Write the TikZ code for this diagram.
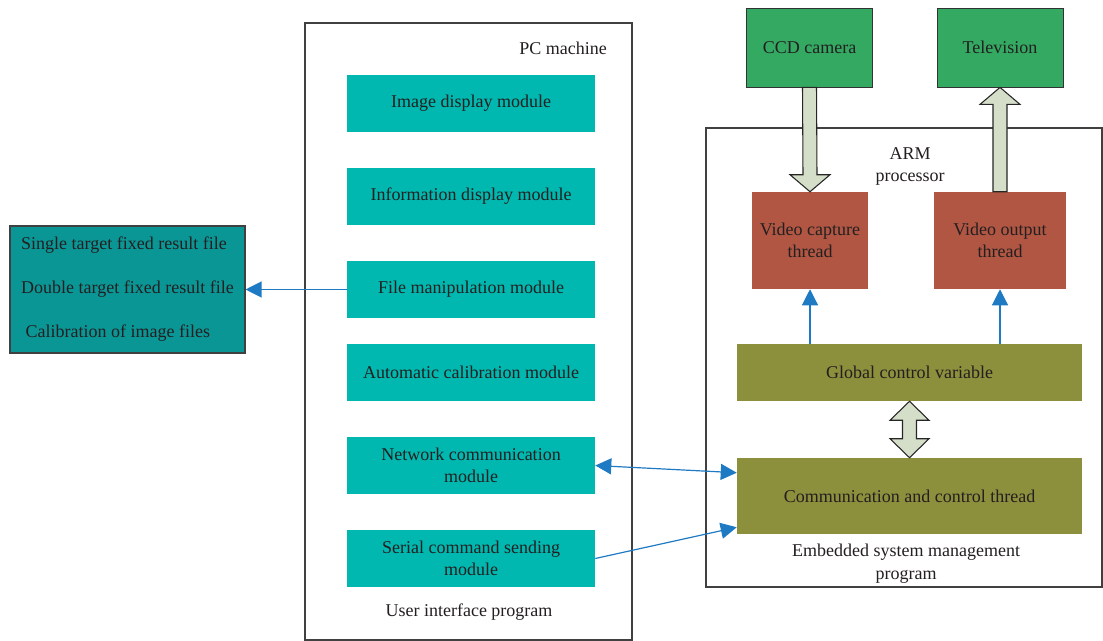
\documentclass[tikz,border=0pt]{standalone}
\usepackage{fontspec}
\setmainfont{Liberation Serif}
\usetikzlibrary{calc,arrows.meta}
\definecolor{txt}{HTML}{231F20}
\definecolor{modc}{HTML}{00B8AF}
\definecolor{filec}{HTML}{0B9696}
\definecolor{grn}{HTML}{33A962}
\definecolor{redc}{HTML}{B05643}
\definecolor{olv}{HTML}{8C8F3C}
\definecolor{blk}{HTML}{D5DEC9}
\definecolor{blu}{HTML}{1F7AC4}
\tikzset{
  every node/.style={text=txt, font=\fontsize{13.5}{17}\selectfont},
  frame/.style={draw=black!75, line width=0.8pt, rectangle, inner sep=0pt},
  mod/.style={rectangle, fill=modc, minimum width=186pt, minimum height=42.75pt, align=center, inner sep=0pt},
  cam/.style={rectangle, fill=grn, draw=black!80, line width=0.6pt, minimum width=95pt, minimum height=59.25pt, inner sep=0pt},
  thr/.style={rectangle, fill=redc, minimum height=72.75pt, align=center, inner sep=0pt},
  olvbox/.style={rectangle, fill=olv, minimum width=258.75pt, inner sep=0pt},
  blkarrow/.style={fill=blk, draw=black!85, line width=0.8pt, line join=miter},
  bluearrow/.style={draw=blu, line width=0.9pt, -{Triangle[width=12pt,length=12pt]}},
  bluedouble/.style={draw=blu, line width=0.9pt, {Triangle[width=12pt,length=12pt]}-{Triangle[width=12pt,length=12pt]}},
  lbl/.style={align=center, inner sep=0pt}
}
\begin{document}
\begin{tikzpicture}[x=0.75pt,y=-0.75pt]
\useasboundingbox (0,0) rectangle (1103,641);
% PC machine frame
\node[frame, minimum width=245.25pt, minimum height=462.75pt] (pc) at (468.5,331.5) {};
\node[lbl] (pclbl) at (563,48) {PC machine};
\node[lbl] (uip) at (469,612) {User interface program};
% modules
\node[mod] (img) at (471,103.5) {Image display module};
\node[mod] (info) at (471,196.5) {Information display module};
\node[mod] (fm) at (471,289.5) {File manipulation module};
\node[mod] (ac) at (471,372.5) {Automatic calibration module};
\node[mod] (net) at (471,465.5) {Network communication\\module};
\node[mod] (ser) at (471,558.5) {Serial command sending\\module};
% files box
\node[rectangle, fill=filec, draw=black!75, line width=0.8pt, minimum width=176.25pt, minimum height=95.25pt, inner sep=0pt, align=left, font=\fontsize{13.5}{33}\selectfont] (files) at (127.5,289.5)
  {Single target fixed result file\\Double target fixed result file\\\ Calibration of image files};
% ARM frame
\node[frame, minimum width=297pt, minimum height=344.25pt] (arm) at (904,357.5) {};
\node[lbl] (armlbl) at (910,166.5) {ARM\\processor};
\node[lbl] (emb) at (906,563.5) {Embedded system management\\program};
% cameras
\node[cam] (ccd) at (809.5,47.5) {CCD camera};
\node[cam, minimum width=94.5pt] (tv) at (1000,47.5) {Television};
% threads
\node[thr, minimum width=87pt] (vcap) at (810,240.5) {Video capture\\thread};
\node[thr, minimum width=99pt] (vout) at (1000,240.5) {Video output\\thread};
\node[olvbox, minimum height=42.75pt] (glob) at (909.5,372.5) {Global control variable};
\node[olvbox, minimum height=57pt] (comm) at (909.5,496) {Communication and control thread};
% block arrows
\draw[blkarrow] ($(ccd.south)+(-7,0)$) -- ($(vcap.north)+(-7,-17)$) -- ($(vcap.north)+(-20,-17)$) -- (vcap.north) -- ($(vcap.north)+(20,-17)$) -- ($(vcap.north)+(7,-17)$) -- ($(ccd.south)+(7,0)$) -- cycle;
\draw[blkarrow] ($(vout.north)+(-7,0)$) -- ($(tv.south)+(-7,17)$) -- ($(tv.south)+(-20,17)$) -- (tv.south) -- ($(tv.south)+(20,17)$) -- ($(tv.south)+(7,17)$) -- ($(vout.north)+(7,0)$) -- cycle;
\draw[blkarrow] (glob.south) -- ($(glob.south)+(19.5,19)$) -- ($(glob.south)+(7,19)$) -- ($(comm.north)+(7,-19)$) -- ($(comm.north)+(19.5,-19)$) -- (comm.north) -- ($(comm.north)+(-19.5,-19)$) -- ($(comm.north)+(-7,-19)$) -- ($(glob.south)+(-7,19)$) -- ($(glob.south)+(-19.5,19)$) -- cycle;
% blue connectors
\draw[bluearrow] (fm.west) -- (files.east);
\draw[bluearrow] (vcap.south |- glob.north) -- (vcap.south);
\draw[bluearrow] (vout.south |- glob.north) -- (vout.south);
\draw[bluedouble] (net.east) -- ($(comm.north west)+(0,15)$);
\draw[bluearrow] (ser.east) -- ($(comm.south west)+(0,-7)$);
\end{tikzpicture}
\end{document}
